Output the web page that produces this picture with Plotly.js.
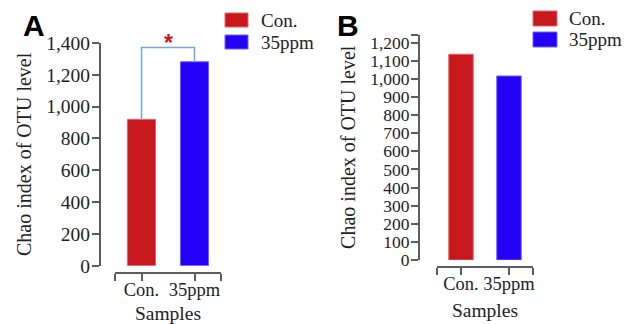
<!DOCTYPE html>
<html>
<head>
<meta charset="utf-8">
<script src="https://cdn.plot.ly/plotly-3.0.1.min.js"></script>
<style>html,body{margin:0;padding:0;background:#fff;}#chart{width:632px;height:324px;}</style>
</head>
<body>
<div id="chart"></div>
<script>
// ---- data ----
const categories = ['Con.', '35ppm'];
const chaoA = [920, 1282];
const chaoB = [1136, 1016];
const sigBracketA = 1372;
const sigMarkA = '*';
const yTicksA = [0, 200, 400, 600, 800, 1000, 1200, 1400];
const yTicksB = [0, 100, 200, 300, 400, 500, 600, 700, 800, 900, 1000, 1100, 1200];
const yMaxB = 1245;
const barColors = ['#C9171E', '#2400F6'];
const barEdge = ['#E2686B', '#6E62FF'];
const panelLabels = ['A', 'B'];
const xTitle = 'Samples';
const yTitle = 'Chao index of OTU level';

// ---- helpers ----
const W = 632, H = 324;
const px = x => x / W;
const py = y => 1 - y / H;
const serif = 'Liberation Serif, Times New Roman, serif';
const idx = categories.map((c, i) => i);
const fmt = v => v.toLocaleString('en-US');

const axisLine = '#5c5c5c';
const tickCol = '#222';

const traces = [
  {type: 'bar', x: idx, y: chaoA, width: 0.53, xaxis: 'x', yaxis: 'y',
   marker: {color: barColors, line: {color: barEdge, width: 1}}, showlegend: false, hoverinfo: 'none'},
  {type: 'bar', x: idx, y: chaoB, width: 0.51, xaxis: 'x2', yaxis: 'y2',
   marker: {color: barColors, line: {color: barEdge, width: 1}}, showlegend: false, hoverinfo: 'none'}
];

function xAx(domain, pos) {
  return {
    domain: domain, anchor: 'free', position: pos, range: [-0.5, 1.5],
    tickmode: 'array', tickvals: [-0.5].concat(idx, [1.5]), ticktext: [''].concat(categories, ['']),
    ticks: 'outside', ticklen: 7, tickwidth: 2, tickcolor: axisLine, ticklabelstandoff: -7,
    showline: true, linecolor: axisLine, linewidth: 2, showgrid: false, zeroline: false,
    tickfont: {family: serif, size: 18.5, color: tickCol},
    title: {text: xTitle, font: {family: serif, size: 19.5, color: tickCol}, standoff: 9},
    fixedrange: true
  };
}
function yAx(domain, pos, range, vals, texts, fs) {
  return {
    domain: domain, anchor: 'free', position: pos, range: range,
    tickmode: 'array', tickvals: vals, ticktext: texts,
    ticks: 'outside', ticklen: 7, tickwidth: 2, tickcolor: axisLine, ticklabelstandoff: -2,
    showline: true, linecolor: axisLine, linewidth: 2, showgrid: false, zeroline: false,
    tickfont: {family: serif, size: fs, color: tickCol},
    title: {text: yTitle, font: {family: serif, size: 20, color: tickCol}, standoff: 8},
    fixedrange: true
  };
}

const shapes = [
  {type: 'path', xref: 'x', yref: 'y',
   path: `M 0,${chaoA[0]} L 0,${sigBracketA} L 1,${sigBracketA} L 1,${chaoA[1]}`,
   line: {color: '#7BA7DB', width: 1.6}}
];
const annotations = [
  {xref: 'x', yref: 'y', x: 0.5, y: sigBracketA, text: '<b>' + sigMarkA + '</b>', showarrow: false,
   yanchor: 'middle', yshift: 4, font: {family: 'Liberation Sans, Arial, sans-serif', size: 23, color: '#C9171E'}},
  {xref: 'paper', yref: 'paper', x: px(33.5), y: py(25), text: '<b>' + panelLabels[0] + '</b>', showarrow: false,
   xanchor: 'center', yanchor: 'middle', font: {family: 'Liberation Sans, Arial, sans-serif', size: 30, color: '#000'}},
  {xref: 'paper', yref: 'paper', x: px(348), y: py(25), text: '<b>' + panelLabels[1] + '</b>', showarrow: false,
   xanchor: 'center', yanchor: 'middle', font: {family: 'Liberation Sans, Arial, sans-serif', size: 30, color: '#000'}}
];

// legends
const legends = [
  {x0: 225, x1: 248, ys: [[13, 27], [35, 49]], tx: 259},
  {x0: 533, x1: 557, ys: [[11, 26], [32, 47]], tx: 567}
];
legends.forEach(lg => {
  categories.forEach((c, i) => {
    const [a, b] = lg.ys[i];
    shapes.push({type: 'rect', xref: 'paper', yref: 'paper', x0: px(lg.x0), x1: px(lg.x1), y0: py(b), y1: py(a),
      fillcolor: barColors[i], line: {color: barEdge[i], width: 1}});
    annotations.push({xref: 'paper', yref: 'paper', x: px(lg.tx), y: py((a + b) / 2), text: c, showarrow: false,
      xanchor: 'left', yanchor: 'middle', font: {family: serif, size: 19, color: tickCol}});
  });
});

const layout = {
  width: W, height: H, margin: {l: 0, r: 0, t: 0, b: 0},
  paper_bgcolor: '#fff', plot_bgcolor: 'rgba(0,0,0,0)', showlegend: false,
  xaxis: xAx([px(115), px(221)], py(273)),
  yaxis: yAx([py(265.7), py(43)], px(100), [0, 1400], yTicksA, yTicksA.map(fmt), 19.5),
  xaxis2: xAx([px(437), px(533)], py(266.7)),
  yaxis2: yAx([py(260), py(34.5)], px(419), [0, yMaxB], yTicksB.concat([yMaxB]), yTicksB.map(fmt).concat(['']), 17.5),
  shapes: shapes, annotations: annotations
};

Plotly.newPlot('chart', traces, layout, {staticPlot: true, displayModeBar: false});
</script>
</body>
</html>
